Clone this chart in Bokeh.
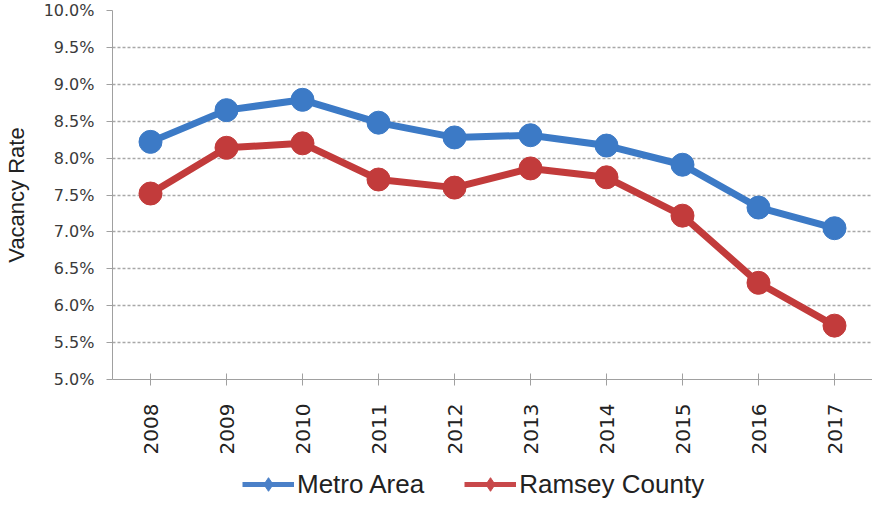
import math
from bokeh.plotting import figure
from bokeh.layouts import column
from bokeh.models import FixedTicker, PrintfTickFormatter, Legend, LegendItem, ColumnDataSource
from bokeh.embed import file_html
from bokeh.resources import INLINE

years = ["2008", "2009", "2010", "2011", "2012", "2013", "2014", "2015", "2016", "2017"]
metro_area = [8.22, 8.65, 8.79, 8.48, 8.28, 8.31, 8.17, 7.91, 7.33, 7.05]
ramsey_county = [7.52, 8.14, 8.20, 7.71, 7.60, 7.86, 7.74, 7.22, 6.31, 5.73]
series_names = ["Metro Area", "Ramsey County"]
y_ticks = [5.0, 5.5, 6.0, 6.5, 7.0, 7.5, 8.0, 8.5, 9.0, 9.5, 10.0]

blue = "#3c7ac6"
red = "#c23b3b"

p = figure(x_range=years, y_range=(5.0, 10.0), frame_width=760, frame_height=369,
           min_border_left=112, min_border_top=10, min_border_right=0, min_border_bottom=0,
           output_backend="svg", toolbar_location=None)
p.outline_line_color = None
p.background_fill_color = "white"
p.border_fill_color = "white"

src = ColumnDataSource(dict(x=years, m=metro_area, r=ramsey_county))
p.line("x", "m", source=src, line_color=blue, line_width=7)
p.scatter("x", "m", source=src, size=23, fill_color=blue, line_color=blue)
p.line("x", "r", source=src, line_color=red, line_width=7)
p.scatter("x", "r", source=src, size=23, fill_color=red, line_color=red)

# y axis
p.yaxis.ticker = FixedTicker(ticks=y_ticks)
p.yaxis.formatter = PrintfTickFormatter(format="%.1f%%")
p.yaxis.axis_label = "Vacancy Rate"
p.yaxis.axis_label_text_font = "Liberation Sans"
p.yaxis.axis_label_text_font_style = "normal"
p.yaxis.axis_label_text_font_size = "22px"
p.yaxis.axis_label_text_color = "#222222"
p.yaxis.axis_label_standoff = 12
p.yaxis.major_label_text_font = "DejaVu Sans"
p.yaxis.major_label_text_font_size = "16px"
p.yaxis.major_label_text_color = "#3a3a3a"
p.yaxis.major_label_standoff = 12
p.yaxis.major_tick_out = 6
p.yaxis.major_tick_in = 0
p.yaxis.minor_tick_line_color = None
p.yaxis.axis_line_color = "#a0a0a0"
p.yaxis.major_tick_line_color = "#a0a0a0"

# x axis
p.xaxis.major_label_orientation = math.pi / 2
p.xaxis.major_label_text_font = "DejaVu Sans"
p.xaxis.major_label_text_font_size = "20px"
p.xaxis.major_label_text_color = "#222222"
p.xaxis.major_label_standoff = 18
p.xaxis.major_tick_out = 6
p.xaxis.major_tick_in = 6
p.xaxis.axis_line_color = "#a0a0a0"
p.xaxis.major_tick_line_color = "#a0a0a0"

p.xgrid.grid_line_color = None
p.ygrid.grid_line_color = "#a8a8a8"
p.ygrid.grid_line_dash = "3 2"
p.ygrid.grid_line_width = 1.5

# legend strip underneath (series drawn out of view; only the legend shows)
lf = figure(width=872, height=44, x_range=years, y_range=(100, 101),
            x_axis_location=None, y_axis_location=None,
            min_border=0, output_backend="svg", toolbar_location=None)
lf.grid.visible = False
lf.outline_line_color = None
lm = lf.line("x", "m", source=src, line_color="#4a80c8", line_width=5)
sm = lf.scatter("x", "m", source=src, marker="diamond", fill_color="#4a80c8", line_color="#4a80c8")
lr = lf.line("x", "r", source=src, line_color="#c8484a", line_width=5)
sr = lf.scatter("x", "r", source=src, marker="diamond", fill_color="#c8484a", line_color="#c8484a")

legend = Legend(items=[LegendItem(label=series_names[0], renderers=[lm, sm]),
                       LegendItem(label=series_names[1], renderers=[lr, sr])],
                orientation="horizontal", location=(130, 0),
                label_text_font="Liberation Sans", label_text_font_size="26px",
                label_text_color="#222222", glyph_width=52, glyph_height=34,
                spacing=40, padding=0, margin=0, border_line_color=None,
                background_fill_alpha=0, label_standoff=3)
lf.add_layout(legend)

layout = column(p, lf, spacing=0)
open("out.html", "w").write(file_html(layout, INLINE))
